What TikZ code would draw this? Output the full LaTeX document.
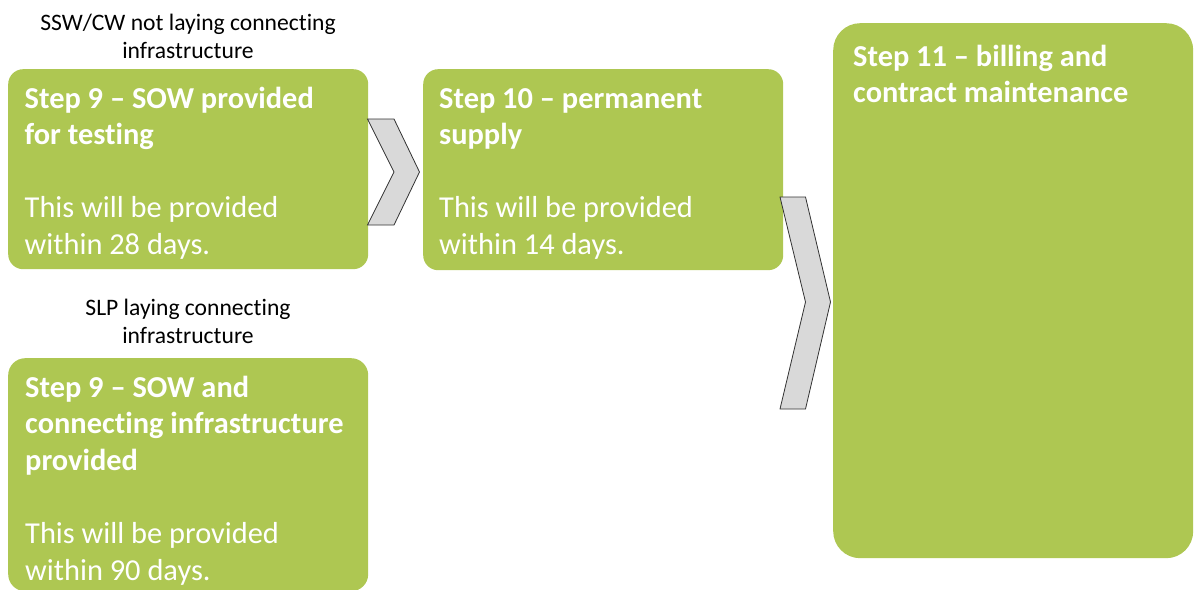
\documentclass[tikz,border=0pt]{standalone}
\usepackage{fontspec}
\setmainfont{Carlito}[Ligatures=NoCommon]
\newcommand\natspaces{\spaceskip=\fontdimen2\font\xspaceskip=\fontdimen2\font\relax}
\definecolor{stepgreen}{RGB}{174,199,82}
\definecolor{chevgray}{RGB}{217,217,217}
\definecolor{chevline}{RGB}{50,50,50}
\begin{document}
\begin{tikzpicture}[x=1pt,y=-1pt,
  stepbox/.style={fill=stepgreen, draw=none, rounded corners=#1, inner sep=0pt, anchor=north west},
  steptext/.style={text=white, font=\fontsize{30.4}{36.6}\selectfont, text width=345pt, align=left, inner sep=0pt, anchor=base west},
  pathlabel/.style={text=black, font=\fontsize{23.6}{28.3}\selectfont, text width=360pt, align=center, inner sep=0pt, anchor=base},
  chevron/.style={fill=chevgray, draw=chevline, line width=0.8pt, line join=miter}]
\useasboundingbox (0,0) rectangle (1194,589);

% boxes
\node[stepbox=15, minimum width=360pt, minimum height=200pt] (boxA) at (8,69) {};
\node[stepbox=15, minimum width=360pt, minimum height=201pt] (boxB) at (423,69) {};
\node[stepbox=27, minimum width=360pt, minimum height=535pt] (boxC) at (833,23) {};
\node[stepbox=17, minimum width=360pt, minimum height=233pt] (boxD) at (8,358) {};

% texts
\node[steptext] (textA) at ([shift={(16.5,39)}]boxA.north west)
  {\natspaces\textbf{Step 9 – SOW provided}\\\textbf{for testing}\\[36.6pt]This will be provided\\within 28 days.};
\node[steptext] (textB) at ([shift={(16,39)}]boxB.north west)
  {\natspaces\textbf{Step 10 – permanent}\\\textbf{supply}\\[36.6pt]This will be provided\\within 14 days.};
\node[steptext] (textC) at ([shift={(20,43)}]boxC.north west)
  {\natspaces\textbf{Step 11 – billing and}\\\textbf{contract maintenance}};
\node[steptext] (textD) at ([shift={(17,39)}]boxD.north west)
  {\natspaces\textbf{Step 9 – SOW and}\\\textbf{connecting infrastructure}\\\textbf{provided}\\[36.6pt]This will be provided\\within 90 days.};

% labels
\node[pathlabel] (labelA) at (188,30) {\natspaces SSW/CW not laying connecting\\infrastructure};
\node[pathlabel] (labelD) at (188,315) {\natspaces SLP laying connecting\\infrastructure};

% chevrons
\draw[chevron] (367.5,119) -- (394,119) -- (419.5,172) -- (394,225) -- (367.5,225) -- (394,172) -- cycle;
\draw[chevron] (780,197) -- (805.5,197) -- (830.5,302) -- (805.5,409) -- (780,409) -- (805.5,302) -- cycle;
\end{tikzpicture}
\end{document}
